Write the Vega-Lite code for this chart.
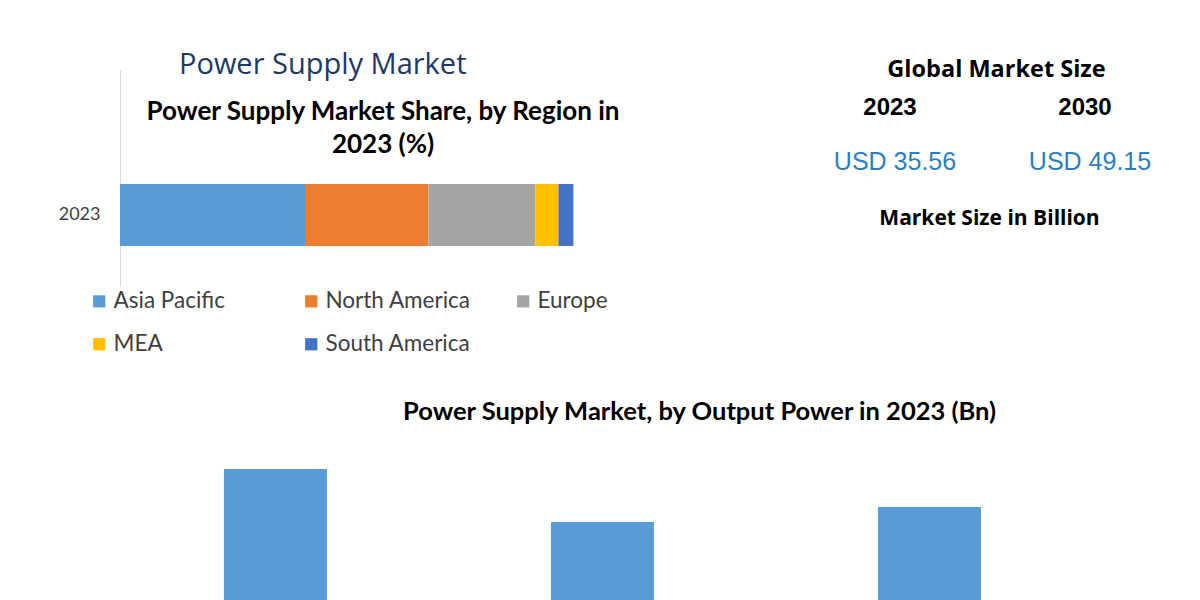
{
  "$schema": "https://vega.github.io/schema/vega-lite/v6.json",
  "padding": {"left": 58, "top": 51, "right": 0, "bottom": 0},
  "background": "white",
  "config": {"view": {"stroke": null}, "font": "Lato"},
  "datasets": {
    "region": [
      {"year": "2023", "region": "Asia Pacific", "share": 40.8},
      {"year": "2023", "region": "North America", "share": 27.2},
      {"year": "2023", "region": "Europe", "share": 23.6},
      {"year": "2023", "region": "MEA", "share": 5.1},
      {"year": "2023", "region": "South America", "share": 3.3}
    ],
    "size": [
      {"row": "head", "col": "mid", "label": "Global Market Size"},
      {"row": "year", "col": "2023", "label": "2023"},
      {"row": "year", "col": "2030", "label": "2030"},
      {"row": "value", "col": "2023", "label": "USD 35.56"},
      {"row": "value", "col": "2030", "label": "USD 49.15"},
      {"row": "unit", "col": "mid", "label": "Market Size in Billion"}
    ],
    "output": [
      {"power": "Low Power", "value": 14.34},
      {"power": "Medium Power", "value": 11.08},
      {"power": "High Power", "value": 12.0}
    ]
  },
  "spacing": 113,
  "vconcat": [
    {
      "spacing": 187,
      "hconcat": [
        {
          "width": 526,
          "height": 216,
          "title": {
            "text": "Power Supply Market\u00a0\u00a0\u00a0\u00a0\u00a0\u00a0\u00a0\u00a0\u00a0\u00a0\u00a0\u00a0\u00a0\u00a0\u00a0\u00a0\u200b",
            "subtitle": ["Power Supply Market Share, by Region in", "2023 (%)"],
            "anchor": "middle",
            "frame": "group",
            "font": "Open Sans",
            "fontSize": 29,
            "fontWeight": 500,
            "color": "#1f3864",
            "subtitleFont": "Lato",
            "subtitleFontSize": 26,
            "subtitleFontWeight": "bold",
            "subtitleColor": "#000000",
            "subtitlePadding": 19,
            "subtitleLineHeight": 33,
            "offset": -88
          },
          "data": {"name": "region"},
          "mark": {"type": "bar"},
          "encoding": {
            "y": {
              "field": "year",
              "type": "nominal",
              "scale": {"paddingInner": 0.713, "paddingOuter": 0.3565, "align": 0.74},
              "axis": {"title": null, "ticks": false, "domainColor": "#d9d9d9", "labelFontSize": 18, "labelColor": "#404040", "labelPadding": 20, "labelFont": "Lato"}
            },
            "x": {
              "field": "share",
              "type": "quantitative",
              "stack": "zero",
              "scale": {"domain": [0, 116]},
              "axis": null
            },
            "order": {"field": "share", "type": "quantitative", "sort": "descending"},
            "color": {
              "field": "region",
              "type": "nominal",
              "sort": ["Asia Pacific", "North America", "Europe", "MEA", "South America"],
              "scale": {
                "domain": ["Asia Pacific", "North America", "Europe", "MEA", "South America"],
                "range": ["#5B9BD5", "#ED7D31", "#A5A5A5", "#FFC000", "#4472C4"]
              },
              "legend": {
                "orient": "none",
                "legendX": -32,
                "legendY": 220,
                "direction": "horizontal",
                "columns": 3,
                "title": null,
                "symbolType": "square",
                "symbolSize": 150,
                "symbolStrokeWidth": 0,
                "labelFontSize": 22.5,
                "labelFont": "Lato",
                "labelColor": "#404040",
                "labelOffset": 3,
                "gridAlign": "all",
                "columnPadding": 41,
                "rowPadding": 20
              }
            }
          }
        },
        {
          "width": 195,
          "height": 149,
          "data": {"name": "size"},
          "encoding": {
            "x": {"field": "col", "type": "nominal", "scale": {"type": "point", "domain": ["2023", "mid", "2030"], "padding": 0}, "axis": null},
            "y": {"field": "row", "type": "nominal", "scale": {"type": "point", "domain": ["head", "year", "value", "unit"], "padding": 0}, "axis": null},
            "text": {"field": "label", "type": "nominal"}
          },
          "layer": [
            {
              "transform": [{"filter": "datum.row === 'head'"}],
              "mark": {"type": "text", "font": "Open Sans", "fontSize": 23.5, "fontWeight": "bold", "color": "#000000", "baseline": "middle", "dx": 9}
            },
            {
              "transform": [{"filter": "datum.row === 'year'"}],
              "mark": {"type": "text", "font": "Liberation Sans", "fontSize": 24, "fontWeight": "bold", "color": "#000000", "baseline": "middle", "dy": -12}
            },
            {
              "transform": [{"filter": "datum.row === 'value'"}],
              "mark": {"type": "text", "font": "Liberation Sans", "fontSize": 25, "color": "#2a7fc0", "baseline": "middle", "dy": -7, "dx": 5}
            },
            {
              "transform": [{"filter": "datum.row === 'unit'"}],
              "mark": {"type": "text", "font": "Open Sans", "fontSize": 21, "fontWeight": "bold", "color": "#000000", "baseline": "middle", "dx": 2}
            }
          ]
        }
      ]
    },
    {
      "width": 981,
      "height": 260,
      "data": {"name": "output"},
      "title": {
        "text": "Power Supply Market, by Output Power in 2023 (Bn)",
        "font": "Lato",
        "fontSize": 25.5,
        "fontWeight": "bold",
        "color": "#000000",
        "anchor": "middle",
        "dx": 89,
        "offset": 17
      },
      "mark": {"type": "bar", "color": "#5B9BD5"},
      "encoding": {
        "x": {
          "field": "power",
          "type": "nominal",
          "sort": null,
          "scale": {"paddingInner": 0.685, "paddingOuter": 0.3425, "align": 0.464},
          "axis": {"title": null, "labelAngle": 0, "ticks": false, "domainColor": "#d9d9d9", "labelFontSize": 16, "labelColor": "#404040"}
        },
        "y": {"field": "value", "type": "quantitative", "scale": {"domain": [0, 16]}, "axis": null}
      }
    }
  ]
}
